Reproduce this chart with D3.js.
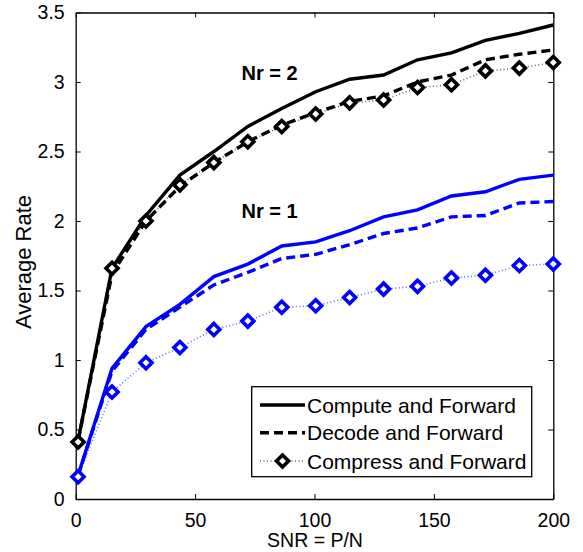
<!DOCTYPE html>
<html><head><meta charset="utf-8">
<script src="https://cdn.jsdelivr.net/npm/d3@7"></script>
<style>body{margin:0;background:#fff}svg{display:block}text{font-family:"Liberation Sans",Arial,sans-serif}</style>
</head><body>
<script>
const snr = [1, 15.21, 29.43, 43.64, 57.86, 72.07, 86.29, 100.5, 114.71, 128.93, 143.14, 157.36, 171.57, 185.79, 200];
const cfNr2 = [0.42, 1.66, 2.04, 2.33, 2.50, 2.68, 2.81, 2.93, 3.02, 3.05, 3.16, 3.21, 3.30, 3.35, 3.41];
const dfNr2 = [0.42, 1.62, 2.00, 2.25, 2.42, 2.57, 2.69, 2.78, 2.86, 2.90, 3.00, 3.05, 3.16, 3.20, 3.23];
const cmpNr2 = [0.41, 1.66, 2.00, 2.26, 2.42, 2.57, 2.68, 2.77, 2.85, 2.87, 2.96, 2.98, 3.08, 3.10, 3.14];
const cfNr1 = [0.17, 0.94, 1.24, 1.40, 1.60, 1.69, 1.82, 1.85, 1.93, 2.03, 2.08, 2.18, 2.21, 2.30, 2.33];
const dfNr1 = [0.17, 0.92, 1.22, 1.38, 1.54, 1.63, 1.73, 1.76, 1.83, 1.91, 1.95, 2.03, 2.04, 2.13, 2.14];
const cmpNr1 = [0.16, 0.77, 0.98, 1.09, 1.22, 1.28, 1.38, 1.39, 1.45, 1.51, 1.53, 1.59, 1.61, 1.68, 1.69];
const xTicks = [0, 50, 100, 150, 200];
const yTicks = [0, 0.5, 1, 1.5, 2, 2.5, 3, 3.5];
const legendLabels = ["Compute and Forward", "Decode and Forward", "Compress and Forward"];

const W = 583, H = 552;
const L = 75.7, R = 553.3, T = 12.5, B = 499;
const svg = d3.select("body").append("svg").attr("width", W).attr("height", H);
const x = d3.scaleLinear().domain([0, 200]).range([L, R]);
const y = d3.scaleLinear().domain([0, 3.5]).range([B, T]);

const fmt = v => String(v);
const axB = svg.append("g").attr("transform", `translate(0,${B})`)
  .call(d3.axisBottom(x).tickValues(xTicks).tickFormat(fmt).tickSizeInner(-5).tickSizeOuter(0).tickPadding(14));
const axT = svg.append("g").attr("transform", `translate(0,${T})`)
  .call(d3.axisTop(x).tickValues(xTicks).tickFormat("").tickSizeInner(-5).tickSizeOuter(0));
const axL = svg.append("g").attr("transform", `translate(${L},0)`)
  .call(d3.axisLeft(y).tickValues(yTicks).tickFormat(fmt).tickSizeInner(-5).tickSizeOuter(0).tickPadding(11));
const axR = svg.append("g").attr("transform", `translate(${R},0)`)
  .call(d3.axisRight(y).tickValues(yTicks).tickFormat("").tickSizeInner(-5).tickSizeOuter(0));
[axB, axT, axL, axR].forEach(a => {
  a.selectAll("path.domain").attr("stroke", "#000").attr("stroke-width", 1.3);
  a.selectAll(".tick line").attr("stroke", "#000").attr("stroke-width", 1);
  a.selectAll("text").attr("fill", "#000").style("font-size", "19.5px").style("font-family", '"Liberation Sans",Arial,sans-serif');
});

const line = d3.line().x((d, i) => x(snr[i])).y(d => y(d));
const diamond = "M0,-6L6,0L0,6L-6,0Z";
function drawSeries(vals, color, kind) {
  const p = svg.append("path").datum(vals).attr("d", line).attr("fill", "none").attr("stroke", color);
  if (kind === "solid") p.attr("stroke-width", 3.4);
  else if (kind === "dash") p.attr("stroke-width", 3.4).attr("stroke-dasharray", "9,5");
  else {
    p.attr("stroke-width", 1.6).attr("stroke-dasharray", "1,2.5").attr("opacity", 0.6);
    svg.append("g").selectAll("path").data(vals).join("path")
      .attr("d", diamond)
      .attr("transform", (d, i) => `translate(${x(snr[i])},${y(d)})`)
      .attr("fill", "#fff").attr("stroke", color).attr("stroke-width", 3.6);
  }
}
drawSeries(cfNr1, "#0000ff", "solid");
drawSeries(dfNr1, "#0000ff", "dash");
drawSeries(cmpNr1, "#0000ff", "dot");
drawSeries(cfNr2, "#000", "solid");
drawSeries(dfNr2, "#000", "dash");
drawSeries(cmpNr2, "#000", "dot");

svg.append("text").attr("x", 241.5).attr("y", 80).text("Nr = 2").style("font-size", "20px").style("font-weight", "bold");
svg.append("text").attr("x", 241.5).attr("y", 218).text("Nr = 1").style("font-size", "20px").style("font-weight", "bold");

svg.append("text").attr("x", 315).attr("y", 547).attr("text-anchor", "middle").text("SNR = P/N").style("font-size", "19.5px");
svg.append("text").attr("transform", "translate(31,262) rotate(-90)").attr("text-anchor", "middle").text("Average Rate").style("font-size", "22px");

const lg = svg.append("g");
lg.append("rect").attr("x", 251.7).attr("y", 386.7).attr("width", 280).attr("height", 90)
  .attr("fill", "#fff").attr("stroke", "#000").attr("stroke-width", 1.3);
const rows = [405, 432.7, 461];
const kinds = ["solid", "dash", "dot"];
legendLabels.forEach((lab, i) => {
  const ly = rows[i];
  const ln = lg.append("line").attr("x1", 260).attr("x2", 305).attr("y1", ly).attr("y2", ly).attr("stroke", "#000");
  if (kinds[i] === "solid") ln.attr("stroke-width", 3.4);
  else if (kinds[i] === "dash") ln.attr("stroke-width", 3.4).attr("stroke-dasharray", "9,5");
  else {
    ln.attr("stroke-width", 1.6).attr("stroke-dasharray", "1,2.5").attr("opacity", 0.6);
    lg.append("path").attr("d", diamond).attr("transform", `translate(282.5,${ly})`)
      .attr("fill", "#fff").attr("stroke", "#000").attr("stroke-width", 3.6);
  }
  lg.append("text").attr("x", 307).attr("y", ly + 7.5).text(lab).style("font-size", "21px");
});
</script>
</body></html>
